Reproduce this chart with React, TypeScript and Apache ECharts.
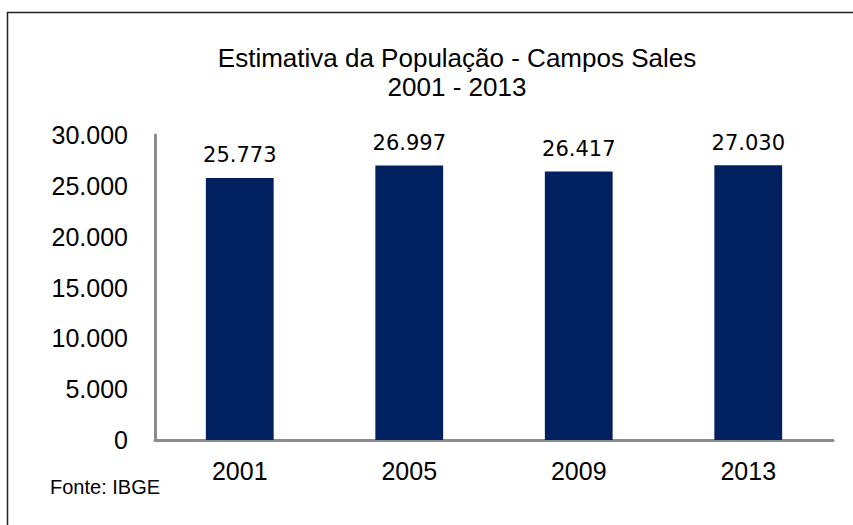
import React, { useEffect, useRef } from "react";
import * as echarts from "echarts";

const categories = ["2001", "2005", "2009", "2013"];
const populationValues = [25773, 26997, 26417, 27030];
const titleLines = ["Estimativa da População - Campos Sales", "2001 - 2013"];
const sourceText = "Fonte: IBGE";

const fmt = (v: number) => {
  const s = Math.round(v).toString();
  return s.replace(/\B(?=(\d{3})+(?!\d))/g, ".");
};

export default function App() {
  const ref = useRef<HTMLDivElement>(null);
  useEffect(() => {
    if (!ref.current) return;
    const chart = echarts.init(ref.current, undefined, { renderer: "svg" });
    chart.setOption({
      animation: false,
      backgroundColor: "#ffffff",
      title: {
        text: titleLines.join("\n"),
        left: 452,
        top: 38,
        textAlign: "center",
        textStyle: {
          fontFamily: "Liberation Sans",
          fontSize: 26,
          fontWeight: "normal",
          color: "#000000",
          lineHeight: 29,
        },
      },
      graphic: [
        {
          type: "rect",
          shape: { x: 7.5, y: 12.5, width: 900, height: 600 },
          style: { fill: "none", stroke: "#222222", lineWidth: 1.5 },
          silent: true,
        },
        {
          type: "text",
          left: 50,
          top: 477,
          style: {
            text: sourceText,
            font: "20px 'Liberation Sans'",
            fill: "#000000",
          },
        },
      ],
      grid: { left: 155, right: 20, top: 135, bottom: 85 },
      xAxis: {
        type: "category",
        data: categories,
        axisLine: { show: true, lineStyle: { color: "#8c8c8c", width: 3 } },
        axisTick: { show: false },
        axisLabel: {
          fontFamily: "Liberation Sans",
          fontSize: 25,
          color: "#000000",
          margin: 18,
        },
      },
      yAxis: {
        type: "value",
        min: 0,
        max: 30000,
        interval: 5000,
        axisLine: { show: true, lineStyle: { color: "#8c8c8c", width: 3 } },
        axisTick: { show: false },
        splitLine: { show: false },
        axisLabel: {
          fontFamily: "Liberation Sans",
          fontSize: 25,
          color: "#000000",
          margin: 27,
          formatter: (v: number) => fmt(v),
        },
      },
      series: [
        {
          type: "bar",
          data: populationValues,
          barWidth: "40%",
          itemStyle: { color: "#002060" },
          label: {
            show: true,
            position: "top",
            distance: 12,
            fontFamily: "DejaVu Sans",
            fontSize: 21,
            color: "#000000",
            formatter: (p: any) => fmt(p.value),
          },
        },
      ],
    });
    return () => chart.dispose();
  }, []);
  return (
    <div
      ref={ref}
      style={{ position: "fixed", left: 0, top: 0, width: 853, height: 525 }}
    />
  );
}
